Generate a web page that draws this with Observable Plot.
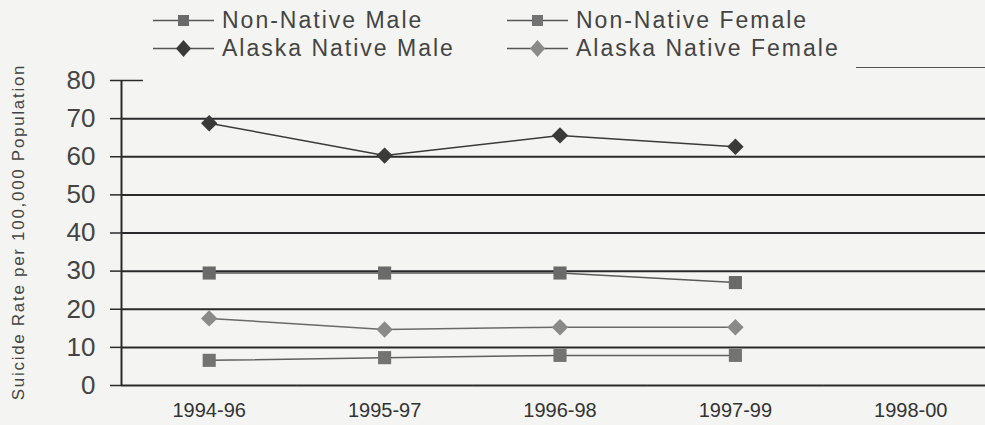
<!DOCTYPE html>
<html><head><meta charset="utf-8">
<script src="https://cdn.jsdelivr.net/npm/d3@7"></script>
<script src="https://cdn.jsdelivr.net/npm/@observablehq/plot@0.6"></script>
<style>
html,body{margin:0;padding:0;background:#f4f4f2;}
body{width:985px;height:425px;overflow:hidden;font-family:"Liberation Sans",Arial,sans-serif;position:relative;}
#legend{position:relative;height:62px;width:985px;}
.item{position:absolute;display:flex;align-items:center;font-size:23px;color:#444;letter-spacing:2px;white-space:nowrap;}
.item svg{margin-right:8px;}
#stub{position:absolute;left:856px;top:67px;width:129px;border-top:1.5px solid #555;}
#ylabel{position:absolute;left:19px;top:232px;transform:translate(-50%,-50%) rotate(-90deg);font-size:17px;letter-spacing:1.7px;color:#444;white-space:nowrap;z-index:2;}
</style></head>
<body>
<div id="legend"></div>
<div id="ylabel">Suicide Rate per 100,000 Population</div>
<div id="chart"></div>
<script>
const periods = ["1994-96","1995-97","1996-98","1997-99","1998-00"];
const seriesNames = ["Non-Native Male","Non-Native Female","Alaska Native Male","Alaska Native Female"];
const nonNativeMale = [29.5, 29.5, 29.5, 27];
const nonNativeFemale = [6.6, 7.3, 7.9, 7.9];
const alaskaNativeMale = [68.8, 60.3, 65.6, 62.6];
const alaskaNativeFemale = [17.6, 14.7, 15.3, 15.3];
const yTicks = [0,10,20,30,40,50,60,70,80];

const styles = {
  "Non-Native Male": {symbol:"square", fill:"#6a6a6a", stroke:"#5a5a5a", r:7.4},
  "Non-Native Female": {symbol:"square", fill:"#737373", stroke:"#5f5f5f", r:7.4},
  "Alaska Native Male": {symbol:"diamond2", fill:"#3a3a3a", stroke:"#3a3a3a", r:7.4},
  "Alaska Native Female": {symbol:"diamond2", fill:"#8a8a8a", stroke:"#6a6a6a", r:7.4}
};
const values = {
  "Non-Native Male": nonNativeMale,
  "Non-Native Female": nonNativeFemale,
  "Alaska Native Male": alaskaNativeMale,
  "Alaska Native Female": alaskaNativeFemale
};
const data = seriesNames.flatMap(s => values[s].map((v,i) => ({series:s, i:i+0.5, period:periods[i], value:v})));

// legend
const legend = document.getElementById("legend");
const pos = {
  "Non-Native Male": [153, 7],
  "Non-Native Female": [507, 7],
  "Alaska Native Male": [153, 35],
  "Alaska Native Female": [507, 35]
};
for (const s of seriesNames) {
  const st = styles[s];
  const d = document.createElement("div");
  d.className = "item";
  d.style.left = pos[s][0] + "px";
  d.style.top = pos[s][1] + "px";
  const sym = st.symbol === "square"
    ? `<rect x="25" y="6" width="11" height="11" fill="${st.fill}"/>`
    : `<path d="M30.5 3 L38 11.5 L30.5 20 L23 11.5 Z" fill="${st.fill}"/>`;
  d.innerHTML = `<svg width="61" height="23"><line x1="0" x2="61" y1="11.5" y2="11.5" stroke="#555" stroke-width="1.5"/>${sym}</svg><span>${s}</span>`;
  legend.appendChild(d);
}
const stub = document.createElement("div"); stub.id = "stub"; legend.appendChild(stub);

const chart = Plot.plot({
  width: 985,
  height: 363,
  marginLeft: 121,
  marginRight: 0,
  marginTop: 18,
  marginBottom: 40,
  style: {background: "transparent", fontFamily: "'Liberation Sans', Arial, sans-serif"},
  x: {type: "linear", domain: [0, 5], range: [121, 998], axis: null},
  y: {domain: [0, 80], axis: null},
  marks: [
    Plot.ruleY(yTicks.filter(t => t < 80), {y: d => d, stroke: "#2a2a2a", strokeWidth: 2}),
    Plot.ruleY([80], {y: d => d, x1: 0, x2: 0.125, stroke: "#2a2a2a", strokeWidth: 1.5}),
    Plot.ruleX([0], {x: d => d, y1: 0, y2: 80, stroke: "#2a2a2a", strokeWidth: 2}),
    Plot.ruleY(yTicks, {y: d => d, x1: -0.063, x2: 0, stroke: "#2a2a2a", strokeWidth: 1.5}),
    Plot.text(yTicks, {x: 0, y: d => d, text: d => String(d), textAnchor: "end", dx: -26, fontSize: 26, fill: "#444"}),
    Plot.ruleX([1,2,3,4], {x: d => d, y1: 0, y2: -0.12, stroke: "#444", strokeWidth: 1.5}),
    Plot.text(periods, {x: (d,i) => i + 0.5, y: 0, text: d => d, dy: 25, fontSize: 20, fill: "#333", letterSpacing: "2.2px"}),
    ...seriesNames.map(s => Plot.line(data.filter(d => d.series === s), {x: "i", y: "value", stroke: styles[s].stroke, strokeWidth: 1.5})),
    ...seriesNames.map(s => Plot.dot(data.filter(d => d.series === s), {x: "i", y: "value", symbol: styles[s].symbol, fill: styles[s].fill, r: styles[s].r}))
  ]
});
document.getElementById("chart").appendChild(chart);
</script>
</body></html>
